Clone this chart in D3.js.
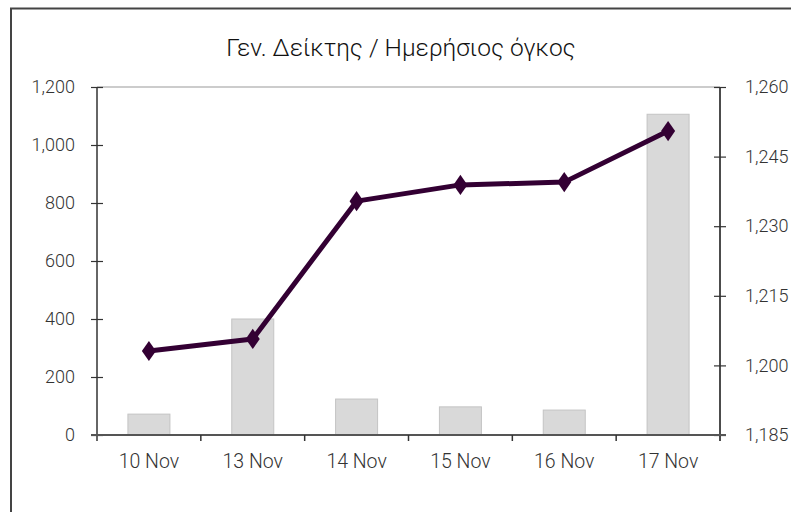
<!DOCTYPE html>
<html><head><meta charset="utf-8">
<script src="https://cdn.jsdelivr.net/npm/d3@7/dist/d3.min.js"></script>
<style>
html,body{margin:0;padding:0;background:#fff;}
svg{display:block;}
</style></head>
<body>
<svg id="chart" width="791" height="512"></svg>
<script>
const title = "Γεν. Δείκτης / Ημερήσιος όγκος";
const categories = ["10 Nov","13 Nov","14 Nov","15 Nov","16 Nov","17 Nov"];
const volumeValues = [72, 400, 124, 97, 86, 1106];
const indexValues = [1203.1, 1205.7, 1235.4, 1238.9, 1239.5, 1250.5];
const leftTicks = [0, 200, 400, 600, 800, 1000, 1200];
const rightTicks = [1185, 1200, 1215, 1230, 1245, 1260];

const svg = d3.select("#chart");
const font = "Roboto, 'Liberation Sans', Arial, sans-serif";
const W = 791, H = 512;
const m = {left: 97, right: 720, top: 87, bottom: 435};

// outer frame
svg.append("rect").attr("x", 11).attr("y", 8.5).attr("width", W + 20).attr("height", H + 20)
  .attr("fill", "#fff").attr("stroke", "#444").attr("stroke-width", 2);

svg.append("text").attr("x", 401).attr("y", 56).attr("text-anchor", "middle")
  .attr("font-family", font).attr("font-weight", 300).attr("font-size", 24.5).attr("fill", "#111").text(title);

const x = d3.scaleBand().domain(categories).range([m.left, m.right]).paddingInner(0).paddingOuter(0);
const yL = d3.scaleLinear().domain([0, 1200]).range([m.bottom, m.top]);
const yR = d3.scaleLinear().domain([1185, 1260]).range([m.bottom, m.top]);

// top border of plot area
svg.append("line").attr("x1", m.left).attr("x2", m.right).attr("y1", m.top).attr("y2", m.top)
  .attr("stroke", "#bbb").attr("stroke-width", 1.5);

// bars
const bw = 42;
svg.append("g").selectAll("rect").data(categories).join("rect")
  .attr("x", d => x(d) + x.bandwidth()/2 - bw/2)
  .attr("y", (d,i) => yL(volumeValues[i]))
  .attr("width", bw)
  .attr("height", (d,i) => yL(0) - yL(volumeValues[i]))
  .attr("fill", "#d9d9d9").attr("stroke", "#c4c4c4").attr("stroke-width", 1);

// axes
const axisL = d3.axisLeft(yL).tickValues(leftTicks).tickFormat(d3.format(",")).tickSize(6).tickPadding(16);
const gL = svg.append("g").attr("transform", `translate(${m.left},0)`).call(axisL);
gL.selectAll(".tick line").attr("x1", 6).attr("x2", -6);
const axisR = d3.axisRight(yR).tickValues(rightTicks).tickFormat(d3.format(",")).tickSize(6).tickPadding(19);
const gR = svg.append("g").attr("transform", `translate(${m.right},0)`).call(axisR);
gR.selectAll(".tick line").attr("x1", -6).attr("x2", 6);
const axisB = d3.axisBottom(x).tickSize(0).tickPadding(19);
const gB = svg.append("g").attr("transform", `translate(0,${m.bottom})`).call(axisB);
// category boundary ticks
svg.append("g").selectAll("line").data(categories.slice(1)).join("line")
  .attr("x1", d => x(d)).attr("x2", d => x(d)).attr("y1", m.bottom).attr("y2", m.bottom + 6)
  .attr("stroke", "#333").attr("stroke-width", 1.5);

[gL, gR].forEach(g => {
  g.selectAll("text").attr("font-family", font).attr("font-weight", 300).attr("font-size", 18).attr("fill", "#333");
});
gB.selectAll("text").attr("font-family", font).attr("font-weight", 300).attr("font-size", 19.5).attr("fill", "#333");
[gL, gR].forEach(g => g.selectAll(".tick line").attr("stroke", "#333").attr("stroke-width", 1.2));
gL.select(".domain").attr("d", `M0,${m.top}V${m.bottom + 6}`).attr("stroke", "#333").attr("stroke-width", 1.5);
gR.select(".domain").attr("d", `M0,${m.top}V${m.bottom + 6}`).attr("stroke", "#111").attr("stroke-width", 1.5);
gB.select(".domain").attr("d", `M${m.left - 6},0H${m.right + 6}`).attr("stroke", "#555").attr("stroke-width", 2);

// line series
const line = d3.line().x((d,i) => x(categories[i]) + x.bandwidth()/2).y(d => yR(d));
svg.append("path").datum(indexValues).attr("d", line)
  .attr("fill", "none").attr("stroke", "#330033").attr("stroke-width", 5).attr("stroke-linejoin", "round");
const sym = d3.symbol().type(d3.symbolDiamond).size(130);
svg.append("g").selectAll("path").data(indexValues).join("path")
  .attr("d", sym)
  .attr("transform", (d,i) => `translate(${x(categories[i]) + x.bandwidth()/2},${yR(d)}) scale(1.15,0.95)`)
  .attr("fill", "#330033");
</script>
</body></html>
